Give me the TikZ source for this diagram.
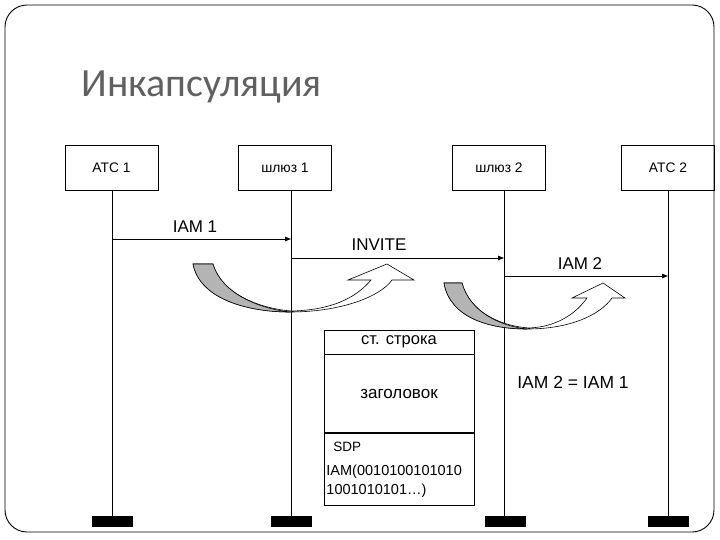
\documentclass[tikz,border=0pt]{standalone}
\usepackage{fontspec}
\setmainfont{Liberation Sans}
\newfontfamily\titlefont{Carlito}
\usetikzlibrary{arrows.meta}
\definecolor{titlegray}{HTML}{606060}
\definecolor{bandgray}{HTML}{B4B4B4}
\begin{document}
\begin{tikzpicture}[x=1pt,y=-1pt,line width=0.9pt,
  entity/.style={draw,minimum width=93pt,minimum height=45pt,inner sep=0pt,font=\fontsize{13.8}{15}\selectfont},
  endbar/.style={fill=black,minimum width=41pt,minimum height=11pt,inner sep=0pt},
  msg/.style={-{Triangle[length=6pt,width=4.5pt]}},
  lbl/.style={anchor=base,font=\fontsize{17}{20}\selectfont,inner sep=0pt},
  sec/.style={draw,minimum width=150pt,inner sep=0pt},
  ribbon/.style={draw,line width=0.6pt,fill=white},
  backband/.style={draw,line width=0.6pt,fill=bandgray}]
\useasboundingbox (0,0) rectangle (720,540);
% frame
\draw[rounded corners=22pt] (5,5) rectangle (714,532);
% title
\node[anchor=base west,inner sep=0pt,text=titlegray,font=\titlefont\fontsize{40}{44}\selectfont] (title) at (81,97) {Инкапсуляция};
% entities
\node[entity] (atc1) at (111.5,167.5) {АТС 1};
\node[entity] (gw1) at (285,167.5) {шлюз 1};
\node[entity] (gw2) at (499,167.5) {шлюз 2};
\node[entity] (atc2) at (668,167.5) {АТС 2};
% end bars
\node[endbar] (e1) at (112,521.5) {};
\node[endbar] (e2) at (291,521.5) {};
\node[endbar] (e3) at (505,521.5) {};
\node[endbar] (e4) at (668,521.5) {};
% lifelines
\coordinate (t1) at (112,190); \coordinate (t2) at (291,190);
\coordinate (t3) at (504,190); \coordinate (t4) at (668,190);
\coordinate (b1) at (112,516); \coordinate (b2) at (291,516);
\coordinate (b3) at (504,516); \coordinate (b4) at (668,516);
\draw (t1) -- (b1); \draw (t2) -- (b2); \draw (t3) -- (b3); \draw (t4) -- (b4);
% messages
\coordinate (m1a) at (112,239); \coordinate (m1b) at (291,239);
\coordinate (m2a) at (291,258); \coordinate (m2b) at (504,258);
\coordinate (m3a) at (504,276); \coordinate (m3b) at (668,276);
\draw[msg] (m1a) -- (m1b);
\draw[msg] (m2a) -- (m2b);
\draw[msg] (m3a) -- (m3b);
\node[lbl] (l1) at (195,233) {IAM 1};
\node[lbl] (l2) at (379,250) {INVITE};
\node[lbl] (l3) at (580,269) {IAM 2};
\node[lbl,font=\fontsize{17.5}{20}\selectfont] (l4) at (573,388) {IAM 2 = IAM 1};
% curved arrow 1
\draw[ribbon] (193,264) .. controls (200,300) and (250,312) .. (290,312)
  .. controls (340,312) and (380,297) .. (392,280) -- (414,280) -- (387,264) -- (348,280) -- (371,280)
  .. controls (355,299) and (330,310) .. (292,311)
  .. controls (262,309) and (222,295) .. (213,264) -- cycle;
\draw[backband] (193,264) .. controls (200,300) and (250,312) .. (290,312)
  .. controls (262,309) and (222,295) .. (213,264) -- cycle;
% curved arrow 2
\draw[ribbon] (444,283) .. controls (450,318) and (490,329) .. (527,329)
  .. controls (570,329) and (600,315) .. (612,298) -- (625,298) -- (603,283) -- (572,298) -- (587,298)
  .. controls (575,315) and (555,327) .. (529,328)
  .. controls (500,326) and (470,312) .. (462,283) -- cycle;
\draw[backband] (444,283) .. controls (450,318) and (490,329) .. (527,329)
  .. controls (500,326) and (470,312) .. (462,283) -- cycle;
% message structure box
\node[sec,minimum height=24pt,font=\fontsize{16.5}{19}\selectfont] (hdr) at (399,342) {ст. строка};
\node[sec,minimum height=78pt,anchor=north,font=\fontsize{17}{20}\selectfont] (head) at (hdr.south) {заголовок};
\node[sec,minimum height=72pt,anchor=north] (body) at (head.south) {};
\node[anchor=base west,inner sep=0pt,font=\fontsize{13.5}{15}\selectfont] (sdp) at (333,451) {SDP};
\node[anchor=base west,inner sep=0pt,font=\fontsize{14.5}{17}\selectfont] (iam1) at (326,475) {IAM(0010100101010};
\node[anchor=base west,inner sep=0pt,font=\fontsize{14.5}{17}\selectfont] (iam2) at (326,494) {1001010101…)};
\end{tikzpicture}
\end{document}
